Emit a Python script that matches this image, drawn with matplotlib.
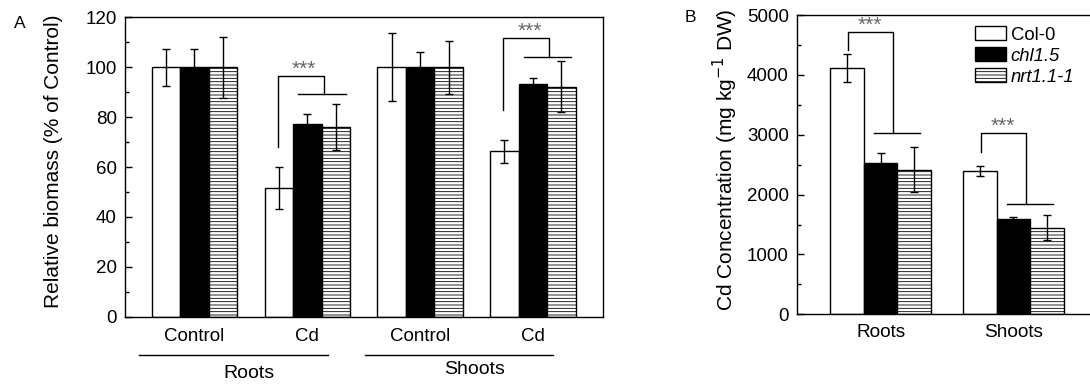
import numpy as np
import matplotlib
matplotlib.use("Agg")
import matplotlib.pyplot as plt
from matplotlib.transforms import blended_transform_factory
from matplotlib.ticker import MultipleLocator

plt.rcParams['font.family'] = ['Liberation Sans', 'DejaVu Sans']
plt.rcParams['hatch.color'] = '#333333'
plt.rcParams['hatch.linewidth'] = 0.6

# ---------------- data ----------------
series = ['Col-0', 'chl1.5', 'nrt1.1-1']

# Panel A: relative biomass (% of control)
a_ticklabels = ['Control', 'Cd', 'Control', 'Cd']
a_groups = ['Roots', 'Shoots']
a_col0 = [100, 51.6, 100, 66.3]
a_col0_err = [7.4, 8.3, 13.6, 4.6]
a_chl = [100, 77.3, 100, 93.1]
a_chl_err = [7.2, 4.0, 6.0, 2.4]
a_nrt = [100, 76.1, 100, 92.2]
a_nrt_err = [12.3, 9.1, 10.7, 10.2]
# significance brackets: (category index, left foot, top, right foot/line)
a_sig = [(1, 68.1, 96.3, 89.3), (3, 82.8, 111.6, 104.2)]
a_star_y = [97.0, 112.2]

# Panel B: Cd concentration (mg kg-1 DW)
b_ticklabels = ['Roots', 'Shoots']
b_col0 = [4115, 2394]
b_col0_err = [231, 90]
b_chl = [2533, 1592]
b_chl_err = [167, 28]
b_nrt = [2411, 1447]
b_nrt_err = [376, 209]
b_sig = [(0, 4415, 4711, 3024), (1, 2716, 3024, 1843)]
b_star_y = [4740, 3050]

# ---------------- layout ----------------
W, H = 1090, 388
fig = plt.figure(figsize=(W / 100, H / 100), dpi=100)

def frac(l, t, r, b):
    return [l / W, 1 - b / H, (r - l) / W, (b - t) / H]

axA = fig.add_axes(frac(125, 17.3, 603.3, 316.7))
axB = fig.add_axes(frac(797.3, 15, 1095.7, 314.3))

bw = 0.252
styles = [dict(facecolor='white', edgecolor='black', hatch=None),
          dict(facecolor='black', edgecolor='black', hatch=None),
          dict(facecolor='white', edgecolor='black', hatch='-----')]
FS_TICK = 13.5
FS_GROUP = 14
FS_YLAB = 15
FS_LEG = 13.3
LW = 1.0
star_color = '#666666'

def draw_bars(ax, vals, errs):
    x = np.arange(len(vals[0]))
    handles = []
    for k, (v, e, st) in enumerate(zip(vals, errs, styles)):
        h = ax.bar(x + (k - 1) * bw, v, bw, yerr=e, color=st['facecolor'],
                   edgecolor=st['edgecolor'], hatch=st['hatch'], linewidth=LW,
                   error_kw=dict(ecolor='black', elinewidth=LW, capsize=2.6,
                                 capthick=LW), label=series[k], zorder=2)
        handles.append(h)
    return x, handles

def style_axes(ax, major, minor, ymax):
    ax.set_ylim(0, ymax)
    ax.yaxis.set_major_locator(MultipleLocator(major))
    ax.yaxis.set_minor_locator(MultipleLocator(minor))
    ax.tick_params(axis='y', which='major', direction='in', length=5,
                   width=LW, labelsize=FS_TICK, pad=6)
    ax.tick_params(axis='y', which='minor', direction='in', length=3, width=LW)
    ax.tick_params(axis='x', length=0, labelsize=FS_TICK)
    for s in ax.spines.values():
        s.set_linewidth(LW)

def bracket(ax, xc, left, right, l0, l1, yfoot, ytop, yline):
    ax.plot([xc + left, xc + left, xc + right, xc + right],
            [yfoot, ytop, ytop, yline], color='black', lw=LW, zorder=3)
    ax.plot([xc + l0, xc + l1], [yline, yline], color='black', lw=LW, zorder=3)

# ---------- Panel A ----------
xA, _ = draw_bars(axA, [a_col0, a_chl, a_nrt], [a_col0_err, a_chl_err, a_nrt_err])
axA.set_xlim(-0.616, 3.624)
style_axes(axA, 20, 10, 120)
axA.set_xticks(xA)
axA.set_xticklabels(a_ticklabels)
axA.tick_params(axis='x', pad=8)
axA.set_ylabel('Relative biomass (% of Control)', fontsize=FS_YLAB)
axA.yaxis.label.set_verticalalignment('center')
axA.yaxis.set_label_coords((54 - 125) / 478.3, 0.518)
for (i, yf, yt, yl), ys in zip(a_sig, a_star_y):
    bracket(axA, xA[i], -0.262, 0.145, -0.08, 0.34, yf, yt, yl)
    axA.text(xA[i] - 0.03, ys, '***', ha='center', va='baseline',
             fontsize=15, color=star_color)

trA = blended_transform_factory(axA.transData, axA.transAxes)
for g, name in enumerate(a_groups):
    x0, x1 = xA[2 * g], xA[2 * g + 1]
    axA.plot([x0 - 0.49, x1 + 0.18], [-0.128, -0.128], transform=trA,
             color='black', lw=LW, clip_on=False)
    axA.text((x0 + x1) / 2 - 0.02, -0.19 + 0.012 * g, name, transform=trA,
             ha='center', va='center', fontsize=FS_GROUP)

# ---------- Panel B ----------
xB, hB = draw_bars(axB, [b_col0, b_chl, b_nrt], [b_col0_err, b_chl_err, b_nrt_err])
axB.set_xlim(-0.628, 1.62)
style_axes(axB, 1000, 500, 5000)
axB.set_xticks(xB)
axB.set_xticklabels(b_ticklabels, fontsize=FS_GROUP - 0.3)
axB.tick_params(axis='x', pad=7)
axB.spines['right'].set_visible(False)
axB.set_ylabel('Cd Concentration (mg kg$^{-1}$ DW)', fontsize=FS_YLAB)
axB.yaxis.label.set_verticalalignment('center')
axB.yaxis.set_label_coords((725.7 - 797.3) / 298.4, 0.515)
for (i, yf, yt, yl), ys in zip(b_sig, b_star_y):
    bracket(axB, xB[i], -0.247, 0.095, -0.05, 0.30, yf, yt, yl)
    axB.text(xB[i] - 0.08, ys, '***', ha='center', va='baseline',
             fontsize=15, color=star_color)

leg = axB.legend(handles=hB, loc='upper left',
                 bbox_to_anchor=((975 - 797.3) / 298.4, (314.3 - 26.5) / 299.3),
                 frameon=False, fontsize=FS_LEG, handlelength=1.68, handleheight=0.76,
                 handletextpad=0.25, labelspacing=0.2, borderpad=0,
                 borderaxespad=0)
for t in leg.get_texts()[1:]:
    t.set_style('italic')

fig.text(20 / W, 1 - 24 / H, 'A', ha='center', va='center', fontsize=12.5)
fig.text(690 / W, 1 - 17 / H, 'B', ha='center', va='center', fontsize=12.5)

fig.savefig('out.png', dpi=100)
